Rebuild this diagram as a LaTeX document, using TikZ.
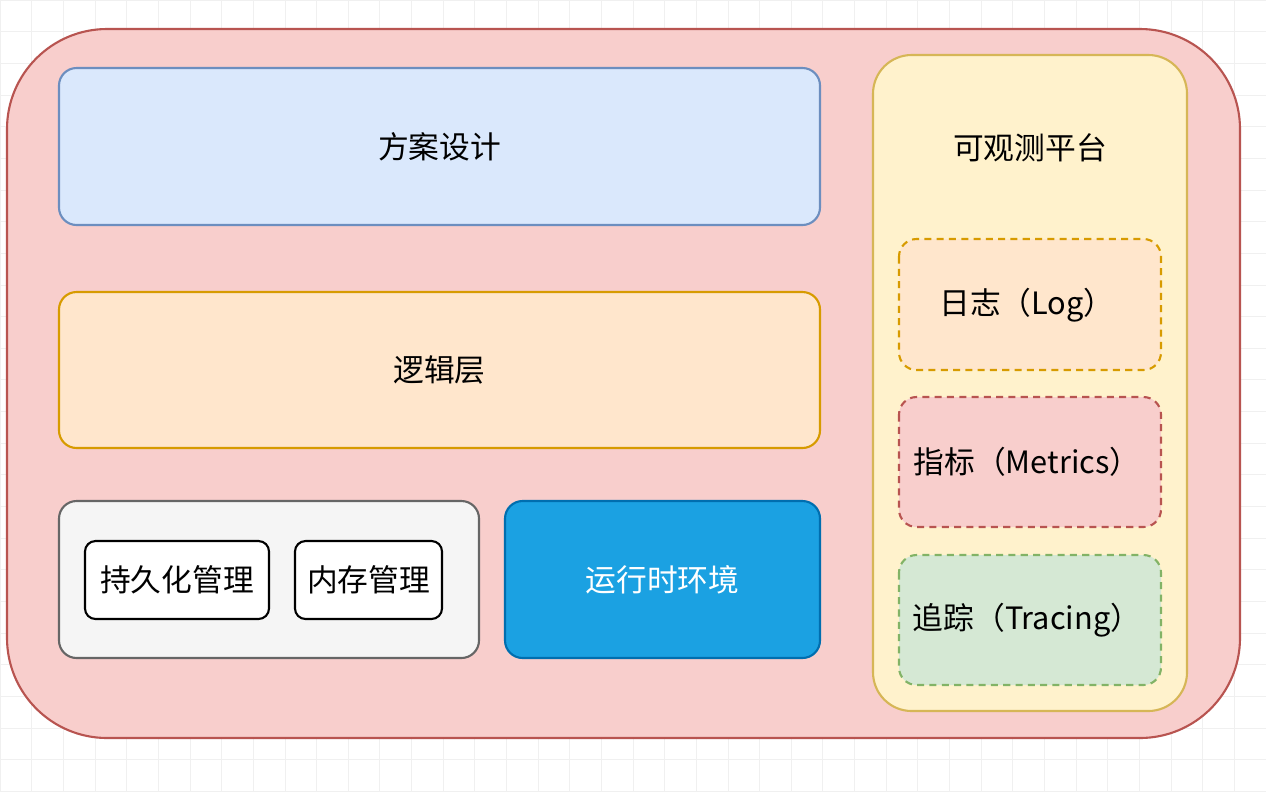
\documentclass[tikz,border=0pt]{standalone}
\usepackage{fontspec}
\setmainfont{Noto Sans CJK SC}
\definecolor{outerfill}{HTML}{F8CECC}
\definecolor{outerline}{HTML}{B85450}
\definecolor{bluefill}{HTML}{DAE8FC}
\definecolor{blueline}{HTML}{6C8EBF}
\definecolor{orangefill}{HTML}{FFE6CC}
\definecolor{orangeline}{HTML}{D79B00}
\definecolor{grayfill}{HTML}{F5F5F5}
\definecolor{grayline}{HTML}{666666}
\definecolor{runfill}{HTML}{1BA1E2}
\definecolor{runline}{HTML}{006EAF}
\definecolor{yellowfill}{HTML}{FFF2CC}
\definecolor{yellowline}{HTML}{D6B656}
\definecolor{greenfill}{HTML}{D5E8D4}
\definecolor{greenline}{HTML}{82B366}
\tikzset{
  layerbox/.style={rounded corners=10pt, line width=1.2pt},
  obsbox/.style={rounded corners=10pt, line width=1.2pt, dash pattern=on 4pt off 3pt},
  modbox/.style={rounded corners=6pt, line width=1.2pt, draw=black, fill=white},
  lbl/.style={font=\fontsize{17.5}{20}\selectfont}
}
\begin{document}
\begin{tikzpicture}[x=0.02cm, y=-0.02cm]
	\useasboundingbox (0,0) rectangle (1266,792);
	% background grid
	\fill[white] (0,0) rectangle (1266,792);
	\draw[black!6, line width=0.3pt, step=0.633cm] (0,0) grid (1266,792);
	
	% outer frame
	\draw[rounded corners=57pt, line width=1.2pt, draw=outerline, fill=outerfill]
	(7,29) rectangle (1240,738);
	
	% left layers
	\draw[layerbox, draw=blueline, fill=bluefill] (59,68) rectangle (820,225);
	\node[lbl] (design) at (439.5,147) {方案设计};
	\draw[layerbox, draw=orangeline, fill=orangefill] (59,292) rectangle (820,448);
	\node[lbl] (logic) at (439.5,370) {逻辑层};
	\draw[layerbox, draw=grayline, fill=grayfill] (59,501) rectangle (479,658);
	\draw[modbox] (85,541) rectangle (269,619);
	\node[lbl] (persist) at (177,580) {持久化管理};
	\draw[modbox] (295,541) rectangle (442,619);
	\node[lbl] (memory) at (368.5,580) {内存管理};
	\draw[layerbox, draw=runline, fill=runfill] (505,501) rectangle (820,658);
	\node[lbl, text=white] (runtime) at (662.5,580) {运行时环境};
	
	% observability platform
	\draw[rounded corners=22pt, line width=1.2pt, draw=yellowline, fill=yellowfill]
	(873,55) rectangle (1187,711);
	\node[lbl] (platform) at (1030,148) {可观测平台};
	\draw[obsbox, draw=orangeline, fill=orangefill] (899,239) rectangle (1161,370);
	\node[lbl] (log) at (1027,305) {日志（Log）};
	\draw[obsbox, draw=outerline, fill=outerfill] (899,397) rectangle (1161,527);
	\node[lbl] (metrics) at (1027,462) {指标（Metrics）};
	\draw[obsbox, draw=greenline, fill=greenfill] (899,555) rectangle (1161,685);
	\node[lbl] (tracing) at (1027,620) {追踪（Tracing）};
\end{tikzpicture}
\end{document}
